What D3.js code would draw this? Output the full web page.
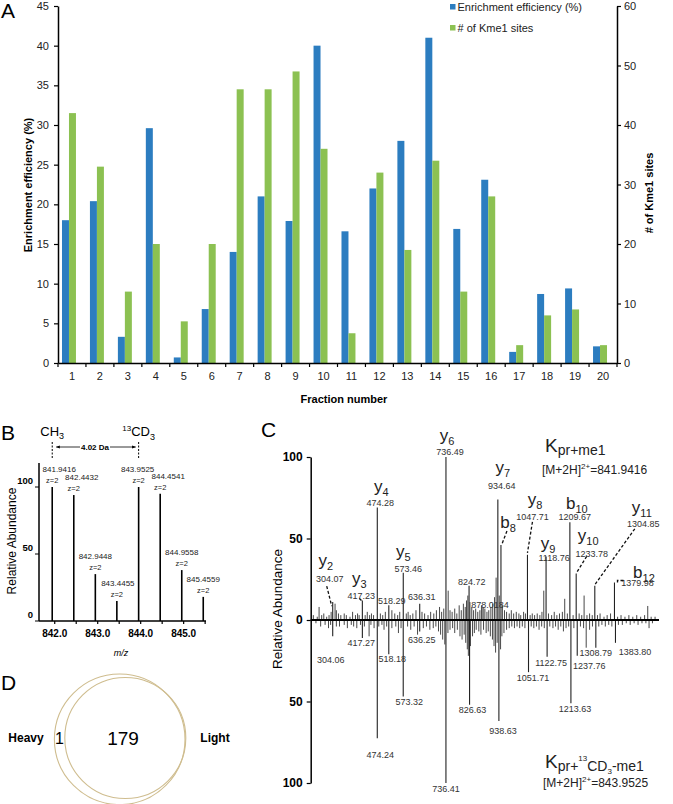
<!DOCTYPE html>
<html><head><meta charset="utf-8">
<script src="https://cdn.jsdelivr.net/npm/d3@7"></script>
<style>
body{margin:0;background:#fff}
svg{display:block}
text{font-family:Arial,"Liberation Sans",Helvetica,sans-serif}
</style>
</head><body>
<svg id="c" width="673" height="804"></svg>
<script>
// ---------------- Panel A data ----------------
const fractions = ["1","2","3","4","5","6","7","8","9","10","11","12","13","14","15","16","17","18","19","20"];
const enrichment = [18,20.4,3.3,29.6,0.7,6.8,14,21,17.9,40,16.6,22,28,41,16.9,23.1,1.4,8.7,9.4,2.1];
const kme1Sites = [42,33,12,20,7,20,46,46,49,36,5,32,19,34,12,28,3,8,9,3];
const leftTicks = [0,5,10,15,20,25,30,35,40,45];
const rightTicks = [0,10,20,30,40,50,60];
const legendLabels = ["Enrichment efficiency (%)","# of Kme1 sites"];

// ---------------- Panel B data ----------------
const msMz = [841.9416,842.4432,842.9448,843.4455,843.9525,844.4541,844.9558,845.4559];
const msAbund = [100,94,35,15,100,95,38,18];
const msLabels = ["841.9416","842.4432","842.9448","843.4455","843.9525","844.4541","844.9558","845.4559"];
const msCharge = ["z=2","z=2","z=2","z=2","z=2","z=2","z=2","z=2"];
const msTicks = [842,843,844,845];
const msMinorTicks = [842,842.5,843,843.5,844,844.5,845,845.5];
const msYTicks = [0,50,100];

// ---------------- Panel C data ----------------
const ionMz   = [304.07,417.23,474.28,573.46,736.49,934.64,946.5,1047.71,1118.76,1209.67,1233.78,1304.85,1379.98];
const ionAb   = [11,12,69,29,100,74,46,40,39,60,28.6,21,23];
const ionType = ["y","y","y","y","y","y","b","y","y","b","y","y","b"];
const ionNum  = ["2","3","4","5","6","7","8","8","9","10","10","11","12"];
const ionLbl  = ["304.07","417.23","474.28","573.46","736.49","934.64","","1047.71","1118.76","1209.67","1233.78","1304.85","1379.98"];
const otherUpMz  = [518.29,636.31,824.72,878.02];
const otherUpAb  = [9,10,21,8];
const otherUpLbl = ["518.29","636.31","824.72","878.0184"];
const downMz  = [304.06,417.27,474.24,518.18,573.32,636.25,736.41,826.63,938.63,1051.71,1122.75,1213.63,1237.76,1308.79,1383.80];
const downAb  = [10,11,72.6,21,47,7,100,52,62,32,22.5,51,22,17,14];
const downLbl = ["304.06","417.27","474.24","518.18","573.32","636.25","736.41","826.63","938.63","1051.71","1122.75","1213.63","1237.76","1308.79","1383.80"];
const noiseUp = [[230,3],[245,2],[252,8],[262,3],[270,4],[281,2],[290,3],[298,5],[313,10],[318,6],[326,4],[335,3],[348,4],[356,3],[370,2],[380,5],[391,3],[399,4],[405,3],[428,3],[436,5],[445,3],[452,4],[460,3],[486,4],[495,3],[505,5],[530,6],[541,4],[552,3],[560,5],[585,4],[592,5],[600,3],[610,4],[622,6],[645,5],[655,4],[668,3],[678,5],[690,4],[700,6],[712,8],[720,5],[728,7],[745,18],[752,6],[760,5],[770,7],[778,4],[787,9],[795,6],[803,10],[810,8],[815,12],[820,15],[828,11],[835,8],[842,6],[850,7],[858,5],[866,6],[872,9],[885,7],[893,5],[900,6],[908,8],[915,10],[922,14],[928,26],[940,15],[952,9],[960,6],[968,5],[978,4],[986,6],[995,4],[1005,5],[1015,4],[1022,3],[1033,5],[1040,4],[1058,3],[1066,4],[1075,3],[1085,4],[1095,3],[1103,5],[1110,18],[1128,4],[1140,3],[1150,5],[1160,3],[1170,4],[1181,5],[1190,13],[1200,4],[1222,3],[1245,4],[1255,3],[1264,15],[1275,3],[1285,4],[1295,3],[1315,3],[1325,4],[1340,2],[1352,3],[1365,4],[1392,2],[1405,3],[1420,2],[1435,3],[1450,2],[1465,3],[1480,2],[1495,3],[1507,8.6],[1520,2],[1535,2]];
const noiseDown = [[240,2],[258,4],[275,3],[288,5],[296,3],[318,4],[330,4],[348,3],[360,5],[375,3],[384,4],[396,5],[410,3],[425,4],[443,10],[450,3],[462,5],[480,4],[492,3],[500,6],[510,4],[530,5],[545,4],[555,8],[565,5],[590,4],[602,6],[615,4],[628,9],[650,5],[662,4],[675,6],[688,5],[698,4],[708,7],[716,9],[724,12],[732,15],[744,8],[752,6],[762,5],[770,8],[780,6],[790,10],[798,12],[806,9],[812,14],[818,18],[822,22],[830,16],[838,10],[845,8],[852,6],[862,7],[870,9],[880,6],[890,8],[898,7],[906,10],[914,12],[920,16],[926,20],[932,14],[945,18],[950,10],[958,8],[968,6],[978,5],[988,4],[998,5],[1008,4],[1018,5],[1028,4],[1038,5],[1062,4],[1072,5],[1082,4],[1092,6],[1102,4],[1112,5],[1133,4],[1145,5],[1155,4],[1165,6],[1175,4],[1185,7],[1195,5],[1205,4],[1225,5],[1250,4],[1262,5],[1272,17],[1285,6],[1296,4],[1320,4],[1332,3],[1345,4],[1358,3],[1370,4],[1395,3],[1410,3],[1425,2],[1440,3],[1455,2],[1470,3],[1485,2],[1500,2],[1512,5],[1525,2]];
const cYTicks = [-100,-50,0,50,100];

// ---------------- Panel D data ----------------
const vennLabels = ["Heavy","Light"];
const vennCounts = ["1","179"];

// ---------------- layout (positions only) ----------------
const ionLayout = [
  [-7,-39,-3,-23,[[-6,-16],[-1,4]]],
  [-3,-19,-1,-5,[[-3,-2],[0,1]]],
  [4,-19,3,-5,null],
  [0,-19,5,-4,null],
  [1,-19,4,-5,null],
  [5,-29,4,-14,null],
  [7,-23,0,0,[[6,-14],[1,-1]]],
  [7.5,-53,5,-38,[[5,-33],[0,-2]]],
  [2,-10,8,1,null],
  [7,-19,5,-5.5,null],
  [12,-35,15.5,-20,[[10.5,-17],[0,0]]],
  [47,-76,48.5,-62,[[40,-57],[0,-1]]],
  [29.5,-11,23,0,[[9,-2],[3,-2],[3,1]]]
];
const otherUpLayout = [[3,-5],[2,-7],[2.6,-4],[7,-2]];
const downLayout = [[-2,23],[-1,5],[3,16],[3.5,5],[6,5],[2,8],[0,6],[3,5],[4,10],[4.5,6],[4,6],[4,6],[12,10],[0,5],[19.5,9]];
const msLabelDx = [7,8,0,1,-1,8,0,0];

const blue = "#2c7dc0", green = "#8cc152";
const svg = d3.select("#c");

// =============== PANEL A ===============
const xA = d3.scaleBand().domain(fractions).range([58,617]);
const yL = d3.scaleLinear().domain([0,45]).range([363,6]);
const yR = d3.scaleLinear().domain([0,60]).range([363,6]);
const bw = xA.bandwidth()*0.25;
const gA = svg.append("g");
gA.selectAll("rect.eb").data(fractions).join("rect").attr("class","eb")
  .attr("x",d=>xA(d)+xA.bandwidth()/2-3-bw).attr("width",bw)
  .attr("y",(d,i)=>yL(enrichment[i])).attr("height",(d,i)=>yL(0)-yL(enrichment[i]))
  .attr("fill",blue);
gA.selectAll("rect.ks").data(fractions).join("rect").attr("class","ks")
  .attr("x",d=>xA(d)+xA.bandwidth()/2-3).attr("width",bw)
  .attr("y",(d,i)=>yR(kme1Sites[i])).attr("height",(d,i)=>yR(0)-yR(kme1Sites[i]))
  .attr("fill",green);

function styleAxis(g, fs, weight){
  g.selectAll(".domain").attr("stroke","#000").attr("stroke-width",1.5);
  g.selectAll(".tick line").attr("stroke","#000").attr("stroke-width",1.2);
  g.selectAll("text").attr("font-size",fs).attr("font-family","Arial, Liberation Sans, sans-serif")
    .attr("fill","#222").attr("font-weight",weight||"normal");
}
const axL = gA.append("g").attr("transform","translate(58,0)")
  .call(d3.axisLeft(yL).tickValues(leftTicks).tickSize(4).tickPadding(5).tickSizeOuter(0));
styleAxis(axL,11);
const axR = gA.append("g").attr("transform","translate(617,0)")
  .call(d3.axisRight(yR).tickValues(rightTicks).tickSize(4).tickPadding(3).tickSizeOuter(0));
styleAxis(axR,11);
const axB = gA.append("g").attr("transform","translate(0,363)")
  .call(d3.axisBottom(xA).tickSize(0).tickPadding(9).tickSizeOuter(0));
styleAxis(axB,11);
gA.selectAll("line.bt").data(fractions.concat(["end"])).join("line").attr("class","bt")
  .attr("x1",d=>d==="end"?617:xA(d)).attr("x2",d=>d==="end"?617:xA(d))
  .attr("y1",363).attr("y2",367).attr("stroke","#000").attr("stroke-width",1.2);

gA.append("text").attr("transform","translate(28,185) rotate(-90)").attr("text-anchor","middle")
  .attr("dominant-baseline","central").attr("font-size",11).attr("font-weight","bold").text("Enrichment efficiency (%)");
gA.append("text").attr("transform","translate(649,193) rotate(-90)").attr("text-anchor","middle")
  .attr("dominant-baseline","central").attr("font-size",11).attr("font-weight","bold").text("# of Kme1 sites");
gA.append("text").attr("x",344).attr("y",403).attr("text-anchor","middle")
  .attr("font-size",11).attr("font-weight","bold").text("Fraction number");
const leg = gA.selectAll("g.leg").data(legendLabels).join("g").attr("class","leg")
  .attr("transform",(d,i)=>`translate(450,${7+i*21})`);
leg.append("rect").attr("x",0).attr("y",-3).attr("width",5.5).attr("height",5.5).attr("fill",(d,i)=>i?green:blue);
leg.append("text").attr("x",7.5).attr("y",4).attr("font-size",11).attr("fill","#222").text(d=>d);
svg.append("text").attr("x",1).attr("y",18).attr("font-size",21).text("A");

// =============== PANEL B ===============
const gB = svg.append("g");
const xB = d3.scaleLinear().domain([841.634,845.52]).range([39,206]);
const yB = d3.scaleLinear().domain([0,100]).range([621,487]);
gB.append("line").attr("x1",39).attr("x2",39).attr("y1",463).attr("y2",621).attr("stroke","#000").attr("stroke-width",1.5);
gB.append("line").attr("x1",39).attr("x2",206).attr("y1",621).attr("y2",621).attr("stroke","#000").attr("stroke-width",1.5);
gB.selectAll("line.mt").data(msMinorTicks).join("line").attr("class","mt")
  .attr("x1",d=>xB(d)).attr("x2",d=>xB(d)).attr("y1",621).attr("y2",624).attr("stroke","#000").attr("stroke-width",1.2);
gB.selectAll("text.xt").data(msTicks).join("text").attr("class","xt")
  .attr("x",d=>xB(d)).attr("y",637).attr("text-anchor","middle").attr("font-size",10).attr("font-weight","bold")
  .text(d=>d.toFixed(1));
gB.selectAll("line.yt").data(msYTicks).join("line").attr("class","yt")
  .attr("x1",35).attr("x2",39).attr("y1",d=>yB(d)).attr("y2",d=>yB(d)).attr("stroke","#000").attr("stroke-width",1);
gB.selectAll("text.yt").data(msYTicks).join("text").attr("class","yt")
  .attr("x",33).attr("y",d=>yB(d)-7+3.5).attr("text-anchor","end").attr("font-size",9.5).attr("font-weight","bold")
  .text(d=>d);
gB.selectAll("line.pk").data(msMz).join("line").attr("class","pk")
  .attr("x1",d=>xB(d)).attr("x2",d=>xB(d)).attr("y1",621).attr("y2",(d,i)=>yB(msAbund[i]))
  .attr("stroke","#000").attr("stroke-width",1.6);
gB.selectAll("text.pl").data(msMz).join("text").attr("class","pl")
  .attr("x",(d,i)=>xB(d)+msLabelDx[i]).attr("y",(d,i)=>yB(msAbund[i])-18+3)
  .attr("text-anchor","middle").attr("font-size",8).attr("fill","#222").text((d,i)=>msLabels[i]);
gB.selectAll("text.pz").data(msMz).join("text").attr("class","pz")
  .attr("x",d=>xB(d)).attr("y",(d,i)=>yB(msAbund[i])-7+3)
  .attr("text-anchor","middle").attr("font-size",7.5).attr("fill","#222").text((d,i)=>msCharge[i]);
gB.append("text").attr("transform","translate(12,541) rotate(-90)").attr("text-anchor","middle")
  .attr("dominant-baseline","central").attr("font-size",12).text("Relative Abundance");
gB.append("text").attr("x",121).attr("y",656).attr("text-anchor","middle").attr("font-size",9)
  .attr("font-style","italic").text("m/z");
const ch = gB.append("text").attr("x",xB(msMz[0])).attr("y",436).attr("text-anchor","middle").attr("font-size",13);
ch.append("tspan").text("CH");
ch.append("tspan").attr("font-size",9).attr("dy",3).text("3");
const cd = gB.append("text").attr("x",xB(msMz[4])).attr("y",436).attr("text-anchor","middle").attr("font-size",13);
cd.append("tspan").attr("font-size",8).attr("dy",-5).text("13");
cd.append("tspan").attr("dy",5).text("CD");
cd.append("tspan").attr("font-size",9).attr("dy",4).text("3");
[msMz[0],msMz[4]].forEach(m=>{
  gB.append("line").attr("x1",xB(m)).attr("x2",xB(m)).attr("y1",442).attr("y2",458)
    .attr("stroke","#000").attr("stroke-width",1).attr("stroke-dasharray","2,1.5");
});
const defs = svg.append("defs");
defs.append("marker").attr("id","ah").attr("viewBox","0 0 10 10").attr("refX",9).attr("refY",5)
  .attr("markerWidth",5).attr("markerHeight",5).attr("orient","auto-start-reverse")
  .append("path").attr("d","M0,1L10,5L0,9z").attr("fill","#000");
gB.append("line").attr("x1",xB(msMz[0])+4).attr("x2",80).attr("y1",447).attr("y2",447)
  .attr("stroke","#000").attr("stroke-width",0.8).attr("marker-start","url(#ah)");
gB.append("line").attr("x1",110).attr("x2",xB(msMz[4])-3).attr("y1",447).attr("y2",447)
  .attr("stroke","#000").attr("stroke-width",0.8).attr("marker-end","url(#ah)");
gB.append("text").attr("x",95).attr("y",450).attr("text-anchor","middle").attr("font-size",8)
  .attr("font-weight","bold").text("4.02 Da");
svg.append("text").attr("x",1).attr("y",440).attr("font-size",21).text("B");

// =============== PANEL C ===============
const gC = svg.append("g");
const xC = d3.scaleLinear().domain([220,1550]).range([310.7,659]);
const yC = d3.scaleLinear().domain([-100,100]).range([783,457]);
gC.selectAll("line.nu").data(noiseUp).join("line").attr("class","nu")
  .attr("x1",d=>xC(d[0])).attr("x2",d=>xC(d[0])).attr("y1",yC(0)).attr("y2",d=>yC(d[1]))
  .attr("stroke","#333").attr("stroke-width",0.9);
gC.selectAll("line.nd").data(noiseDown).join("line").attr("class","nd")
  .attr("x1",d=>xC(d[0])).attr("x2",d=>xC(d[0])).attr("y1",yC(0)).attr("y2",d=>yC(-d[1]))
  .attr("stroke","#333").attr("stroke-width",0.9);
gC.selectAll("line.iu").data(ionMz).join("line").attr("class","iu")
  .attr("x1",d=>xC(d)).attr("x2",d=>xC(d)).attr("y1",yC(0)).attr("y2",(d,i)=>yC(ionAb[i]))
  .attr("stroke","#222").attr("stroke-width",1.1);
gC.selectAll("line.ou").data(otherUpMz).join("line").attr("class","ou")
  .attr("x1",d=>xC(d)).attr("x2",d=>xC(d)).attr("y1",yC(0)).attr("y2",(d,i)=>yC(otherUpAb[i]))
  .attr("stroke","#222").attr("stroke-width",1.1);
gC.selectAll("line.dn").data(downMz).join("line").attr("class","dn")
  .attr("x1",d=>xC(d)).attr("x2",d=>xC(d)).attr("y1",yC(0)).attr("y2",(d,i)=>yC(-downAb[i]))
  .attr("stroke","#222").attr("stroke-width",1.1);
gC.append("line").attr("x1",310.7).attr("x2",659).attr("y1",yC(0)).attr("y2",yC(0)).attr("stroke","#000").attr("stroke-width",2);
const axC = gC.append("g").attr("transform","translate(310.7,0)")
  .call(d3.axisLeft(yC).tickValues(cYTicks).tickSize(4).tickPadding(4).tickSizeOuter(0).tickFormat(d=>Math.abs(d)));
styleAxis(axC,12,"bold");
axC.selectAll("text").attr("fill","#000");
gC.append("text").attr("transform","translate(277,609) rotate(-90)").attr("text-anchor","middle")
  .attr("dominant-baseline","central").attr("font-size",13.5).text("Relative Abundance");
ionMz.forEach((m,i)=>{
  const px = xC(m), py = yC(ionAb[i]), L = ionLayout[i];
  const t = gC.append("text").attr("x",px+L[0]).attr("y",py+L[1]+(ionType[i]==="b"?6:3))
    .attr("text-anchor","middle").attr("font-size",17).attr("fill","#222");
  t.append("tspan").text(ionType[i]);
  t.append("tspan").attr("font-size",11).attr("dy",4).text(ionNum[i]);
  if(ionLbl[i]) gC.append("text").attr("x",px+L[2]).attr("y",py+L[3]+3.2).attr("text-anchor","middle")
    .attr("font-size",9).attr("fill","#333").text(ionLbl[i]);
  if(L[4]) gC.append("path").attr("d",d3.line()(L[4].map(p=>[px+p[0],py+p[1]])))
    .attr("fill","none").attr("stroke","#111").attr("stroke-width",1.3).attr("stroke-dasharray","3,2");
});
otherUpMz.forEach((m,i)=>{
  gC.append("text").attr("x",xC(m)+otherUpLayout[i][0]).attr("y",yC(otherUpAb[i])+otherUpLayout[i][1]+3.2)
    .attr("text-anchor","middle").attr("font-size",9).attr("fill","#333").text(otherUpLbl[i]);
});
downMz.forEach((m,i)=>{
  gC.append("text").attr("x",xC(m)+downLayout[i][0]).attr("y",yC(-downAb[i])+downLayout[i][1]+3.2)
    .attr("text-anchor","middle").attr("font-size",9).attr("fill","#333").text(downLbl[i]);
});
const k1 = gC.append("text").attr("x",545).attr("y",452).attr("font-size",19).attr("fill","#222");
k1.append("tspan").text("K");
k1.append("tspan").attr("font-size",14).attr("dy",3).text("pr+me1");
const m1 = gC.append("text").attr("x",542).attr("y",474).attr("font-size",12).attr("fill","#222");
m1.append("tspan").text("[M+2H]");
m1.append("tspan").attr("font-size",8).attr("dy",-5).text("2+");
m1.append("tspan").attr("dy",5).text("=841.9416");
const k2 = gC.append("text").attr("x",545).attr("y",768).attr("font-size",19).attr("fill","#222");
k2.append("tspan").text("K");
k2.append("tspan").attr("font-size",14).attr("dy",3).text("pr+");
k2.append("tspan").attr("font-size",8).attr("dy",-10).text("13");
k2.append("tspan").attr("font-size",14).attr("dy",10).text("CD");
k2.append("tspan").attr("font-size",8).attr("dy",3).text("3");
k2.append("tspan").attr("font-size",14).attr("dy",-3).text("-me1");
const m2 = gC.append("text").attr("x",543).attr("y",787).attr("font-size",12).attr("fill","#222");
m2.append("tspan").text("[M+2H]");
m2.append("tspan").attr("font-size",8).attr("dy",-5).text("2+");
m2.append("tspan").attr("dy",5).text("=843.9525");
svg.append("text").attr("x",261).attr("y",437).attr("font-size",21).text("C");

// =============== PANEL D ===============
const gD = svg.append("g");
gD.append("circle").attr("cx",119.7).attr("cy",739.3).attr("r",65.3).attr("fill","none").attr("stroke","#cfbd8f").attr("stroke-width",1.1);
gD.append("circle").attr("cx",125.3).attr("cy",738).attr("r",60.5).attr("fill","none").attr("stroke","#cfbd8f").attr("stroke-width",1.1);
gD.append("text").attr("x",26).attr("y",742).attr("text-anchor","middle").attr("font-size",12).attr("font-weight","bold").text(vennLabels[0]);
gD.append("text").attr("x",215).attr("y",742).attr("text-anchor","middle").attr("font-size",12).attr("font-weight","bold").text(vennLabels[1]);
gD.append("text").attr("x",59.5).attr("y",744).attr("text-anchor","middle").attr("font-size",16).text(vennCounts[0]);
gD.append("text").attr("x",123).attr("y",745).attr("text-anchor","middle").attr("font-size",19).text(vennCounts[1]);
svg.append("text").attr("x",1).attr("y",690).attr("font-size",21).text("D");
</script>
</body></html>
